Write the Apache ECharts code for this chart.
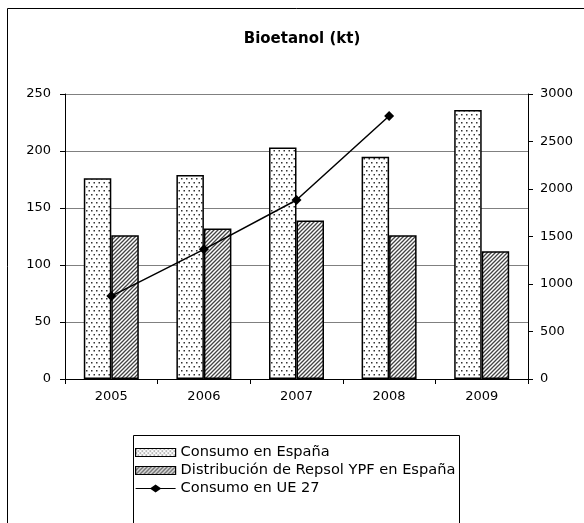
<!DOCTYPE html>
<html>
<head>
<meta charset="utf-8">
<script src="https://cdn.jsdelivr.net/npm/echarts@6/dist/echarts.min.js"></script>
<style>html,body{margin:0;padding:0;background:#fff;}#c{width:584px;height:523px;}</style>
</head>
<body>
<div id="c"></div>
<script>
var categories = ['2005', '2006', '2007', '2008', '2009'];
var consumoEspana = [176, 179, 203, 195, 236];
var repsolEspana = [126, 132, 139, 126, 112];
var consumoUE27 = [873, 1365, 1884, 2768, null];
var leftTicks = [0, 50, 100, 150, 200, 250];
var rightTicks = [0, 500, 1000, 1500, 2000, 2500, 3000];

function dotPattern() {
  var c = document.createElement('canvas');
  c.width = 5; c.height = 8;
  var g = c.getContext('2d');
  g.fillStyle = '#fff'; g.fillRect(0, 0, 5, 8);
  g.fillStyle = '#333';
  g.fillRect(1, 2, 1.5, 1.5);
  g.fillRect(3.5, 6, 1.5, 1.5);
  return c;
}
function smallDotPattern() {
  var c = document.createElement('canvas');
  c.width = 4; c.height = 4;
  var g = c.getContext('2d');
  g.fillStyle = '#fff'; g.fillRect(0, 0, 4, 4);
  g.fillStyle = '#555';
  g.fillRect(0, 0, 1.2, 1.2);
  g.fillRect(2, 2, 1.2, 1.2);
  return c;
}
function hatchPattern() {
  var c = document.createElement('canvas');
  c.width = 4; c.height = 4;
  var g = c.getContext('2d');
  g.fillStyle = '#fff'; g.fillRect(0, 0, 4, 4);
  g.strokeStyle = '#444'; g.lineWidth = 1.3;
  g.beginPath();
  g.moveTo(-1, 5); g.lineTo(5, -1);
  g.moveTo(-1, 1); g.lineTo(1, -1);
  g.moveTo(3, 5); g.lineTo(5, 3);
  g.stroke();
  return c;
}

var chart = echarts.init(document.getElementById('c'));
var font = 'DejaVu Sans, sans-serif';
chart.setOption({
  animation: false,
  backgroundColor: '#fff',
  title: {
    text: 'Bioetanol (kt)', left: 297, top: 27, textAlign: 'center',
    textStyle: { fontFamily: font, fontSize: 15, fontWeight: 'bold', color: '#000' }
  },
  graphic: [
    { type: 'rect', shape: { x: 7.5, y: 8.5, width: 700, height: 700 }, style: { fill: 'none', stroke: '#000', lineWidth: 1 }, z: -1 },
    { type: 'rect', shape: { x: 133.5, y: 435.5, width: 326, height: 200 }, style: { fill: 'none', stroke: '#000', lineWidth: 1 }, z: -1 }
  ],
  legend: {
    orient: 'vertical', left: 130, top: 440, itemWidth: 40, itemHeight: 8, itemGap: 3,
    symbolKeepAspect: false,
    textStyle: { fontFamily: font, fontSize: 14.6, color: '#000', lineHeight: 14.5 },
    data: [
      { name: 'Consumo en España', icon: 'rect', itemStyle: { color: { image: smallDotPattern(), repeat: 'repeat' }, borderColor: '#000', borderWidth: 1.2 } },
      { name: 'Distribución de Repsol YPF en España', icon: 'rect', itemStyle: { color: { image: hatchPattern(), repeat: 'repeat' }, borderColor: '#000', borderWidth: 1.2 } },
      { name: 'Consumo en UE 27', icon: 'path://M0,3.3L15,3.3L20,-0.5L25,3.3L40,3.3L40,4.7L25,4.7L20,8.5L15,4.7L0,4.7Z' }
    ]
  },
  grid: { left: 65, right: 56, top: 94, bottom: 144 },
  xAxis: {
    type: 'category', data: categories,
    axisLine: { lineStyle: { color: '#000', width: 1 } },
    axisTick: { show: true, length: 5, lineStyle: { color: '#000' } },
    axisLabel: { fontFamily: font, fontSize: 13, color: '#000', margin: 11 }
  },
  yAxis: [
    {
      type: 'value', min: 0, max: 250, interval: 50,
      axisLine: { show: true, lineStyle: { color: '#000' } },
      axisTick: { show: true, length: 5, lineStyle: { color: '#000' } },
      splitLine: { show: true, lineStyle: { color: '#808080', width: 1 } },
      axisLabel: { fontFamily: font, fontSize: 13, color: '#000', margin: 14,
        formatter: function (v) { return leftTicks.indexOf(v) >= 0 ? String(v) : ''; } }
    },
    {
      type: 'value', min: 0, max: 3000, interval: 500, position: 'right',
      axisLine: { show: true, lineStyle: { color: '#000' } },
      axisTick: { show: true, length: 5, lineStyle: { color: '#000' } },
      splitLine: { show: false },
      axisLabel: { fontFamily: font, fontSize: 13, color: '#000', margin: 12,
        formatter: function (v) { return rightTicks.indexOf(v) >= 0 ? String(v) : ''; } }
    }
  ],
  series: [
    {
      name: 'Consumo en España', type: 'bar', yAxisIndex: 0, data: consumoEspana,
      barWidth: 27.5, barGap: '0%',
      itemStyle: { color: { image: dotPattern(), repeat: 'repeat' }, borderColor: '#000', borderWidth: 1.5 }
    },
    {
      name: 'Distribución de Repsol YPF en España', type: 'bar', yAxisIndex: 0, data: repsolEspana,
      barWidth: 27.5, barGap: '0%',
      itemStyle: { color: { image: hatchPattern(), repeat: 'repeat' }, borderColor: '#000', borderWidth: 1.5 }
    },
    {
      name: 'Consumo en UE 27', type: 'line', yAxisIndex: 1, data: consumoUE27,
      symbol: 'diamond', symbolSize: 10, connectNulls: false,
      lineStyle: { color: '#000', width: 1.5 },
      itemStyle: { color: '#000' }, z: 5
    }
  ]
});
</script>
</body>
</html>
